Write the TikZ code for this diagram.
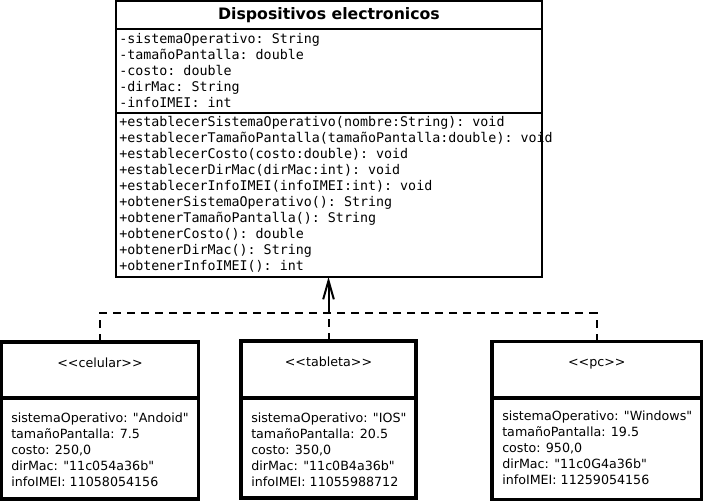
\documentclass[tikz,border=0pt]{standalone}
\usepackage{fontspec}
\setmainfont{DejaVu Sans}[Ligatures=TeXOff]
\setmonofont{DejaVu Sans Mono}
\usetikzlibrary{arrows.meta}
\begin{document}
\begin{tikzpicture}[x=0.75pt,y=-0.75pt,
  umlbox/.style={draw, line width=1.5pt, outer sep=0pt, inner sep=0pt, anchor=north west},
  instbox/.style={draw, line width=2.5pt, outer sep=0pt, inner sep=0pt, anchor=north west},
  mono/.style={font=\ttfamily\fontsize{10}{12}\selectfont, align=left, anchor=north west, inner sep=0pt},
  inst/.style={font=\fontsize{9.5}{12}\selectfont, align=left, anchor=north west, inner sep=0pt},
  stereo/.style={font=\fontsize{9.5}{12}\selectfont, anchor=base, inner sep=0pt},
  titletext/.style={font=\bfseries\fontsize{11.8}{14}\selectfont, inner sep=0pt},
  dep/.style={line width=1.5pt, dash pattern=on 6pt off 4.5pt},
  gen/.style={line width=1.5pt, -{Straight Barb[length=14pt,width=8pt]}}]
\useasboundingbox (0,0) rectangle (703,502);

% main class
\node[umlbox, minimum width=319.5pt, minimum height=207pt] (main) at (116,1) {};
\draw[line width=1.5pt] (main.west |- 0,29) -- (main.east |- 0,29);
\draw[line width=1.5pt] (main.west |- 0,113) -- (main.east |- 0,113);
\node[titletext] (title) at (329,15) {Dispositivos electronicos};
\node[mono] (attrs) at (119,33) {-sistemaOperativo: String\\
-tamañoPantalla: double\\
-costo: double\\
-dirMac: String\\
-infoIMEI: int};
\node[mono] (meths) at (119,116.5) {+establecerSistemaOperativo(nombre:String): void\\
+establecerTamañoPantalla(tamañoPantalla:double): void\\
+establecerCosto(costo:double): void\\
+establecerDirMac(dirMac:int): void\\
+establecerInfoIMEI(infoIMEI:int): void\\
+obtenerSistemaOperativo(): String\\
+obtenerTamañoPantalla(): String\\
+obtenerCosto(): double\\
+obtenerDirMac(): String\\
+obtenerInfoIMEI(): int};

% instances
\node[instbox, minimum width=147.75pt, minimum height=117.75pt] (cel) at (1.7,342) {};
\node[instbox, minimum width=131.25pt, minimum height=117.75pt] (tab) at (241,341) {};
\node[instbox, minimum width=157.1pt, minimum height=118.5pt] (pc) at (492,341.5) {};
\draw[line width=2.5pt] (cel.west |- 0,398) -- (cel.east |- 0,398);
\draw[line width=2.5pt] (tab.west |- 0,398) -- (tab.east |- 0,398);
\draw[line width=2.5pt] (pc.west |- 0,398) -- (pc.east |- 0,398);

\node[stereo] (celst) at (100,367.5) {<{}<celular>{}>};
\node[stereo] (tabst) at (328.5,366.5) {<{}<tableta>{}>};
\node[stereo] (pcst) at (596.75,366) {<{}<pc>{}>};

\node[inst] (celat) at (11,412.5) {sistemaOperativo: "Andoid"\\
tamañoPantalla: 7.5\\
costo: 250,0\\
dirMac: "11c054a36b"\\
infoIMEI: 11058054156};
\node[inst] (tabat) at (251,412.5) {sistemaOperativo: "IOS"\\
tamañoPantalla: 20.5\\
costo: 350,0\\
dirMac: "11c0B4a36b"\\
infoIMEI: 11055988712};
\node[inst] (pcat) at (502,411) {sistemaOperativo: "Windows"\\
tamañoPantalla: 19.5\\
costo: 950,0\\
dirMac: "11c0G4a36b"\\
infoIMEI: 11259054156};

% connectors
\coordinate (junc) at (328.5,313);
\draw[dep] (cel.north) |- (junc);
\draw[dep] (pc.north) |- (junc);
\draw[dep] (tab.north) -- (junc);
\draw[gen] (junc) -- (main.south -| junc);
\end{tikzpicture}
\end{document}
